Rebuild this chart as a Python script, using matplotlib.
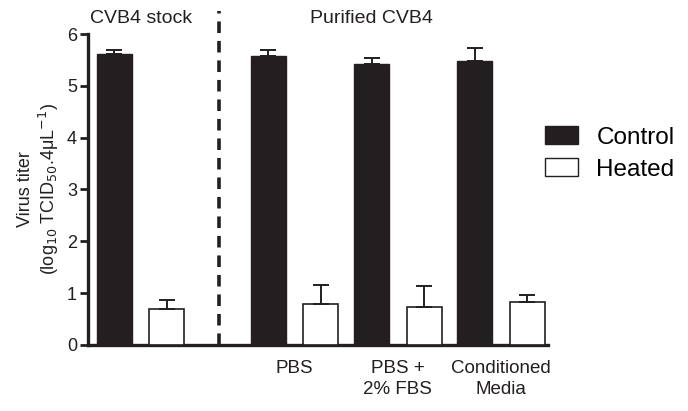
import matplotlib.pyplot as plt
from matplotlib.patches import Patch

plt.rcParams['font.family'] = ['Liberation Sans', 'DejaVu Sans']

# --- data ---
groups = ['', 'PBS', 'PBS +\n2% FBS', 'Conditioned\nMedia']
control_mean = [5.61, 5.58, 5.42, 5.49]
control_err = [0.09, 0.11, 0.12, 0.24]
heated_mean = [0.70, 0.79, 0.74, 0.82]
heated_err = [0.16, 0.37, 0.40, 0.14]

BLACK = '#231f20'
ctrl_x = [0.75, 5.15, 8.1, 11.05]
heat_x = [x + 1.5 for x in ctrl_x]
W = 1.0

fig = plt.figure(figsize=(6.88, 4.11), dpi=100)
ax = fig.add_axes([0.128, 0.161, 0.669, 0.756])

err_kw = dict(ecolor=BLACK, elinewidth=1.4, capsize=5.5, capthick=1.4)
ax.bar(ctrl_x, control_mean, W, color=BLACK, edgecolor=BLACK, linewidth=1.0,
       yerr=[[0] * 4, control_err], error_kw=err_kw, zorder=3)
ax.bar(heat_x, heated_mean, W, color='white', edgecolor=BLACK, linewidth=1.2,
       yerr=[[0] * 4, heated_err], error_kw=err_kw, zorder=3)

# dashed separator
ax.plot([3.75, 3.75], [0, 6.45], color=BLACK, linestyle=(0, (3.2, 2.2)),
        linewidth=2.6, clip_on=False, zorder=4)

ax.set_xlim(0, 13.15)
ax.set_ylim(0, 6)
ax.set_yticks(range(7))
ax.set_xticks([])
ax.tick_params(axis='y', direction='out', length=6, width=2, labelsize=13,
               colors=BLACK, pad=2)
for s in ['top', 'right']:
    ax.spines[s].set_visible(False)
for s in ['left', 'bottom']:
    ax.spines[s].set_linewidth(2.4)
    ax.spines[s].set_color(BLACK)

ax.set_ylabel('Virus titer\n(log$_{10}$ TCID$_{50}$.4\u03bcL$^{-1}$)',
              fontsize=13, color=BLACK, labelpad=4, linespacing=1.15)

# group labels under the axis
for cx, hx, lab in zip(ctrl_x, heat_x, groups):
    ax.text((cx + hx) / 2, -0.3, lab, ha='center', va='top', fontsize=13.5,
            color=BLACK, linespacing=1.25)

ax.text(1.5, 6.3, 'CVB4 stock', ha='center', va='center', fontsize=14, color=BLACK)
ax.text(8.1, 6.3, 'Purified CVB4', ha='center', va='center', fontsize=14, color=BLACK)

handles = [Patch(facecolor=BLACK, edgecolor=BLACK, label='Control'),
           Patch(facecolor='white', edgecolor=BLACK, label='Heated')]
fig.legend(handles=handles, loc='upper left', bbox_to_anchor=(0.778, 0.716),
           frameon=False, fontsize=17.5, handlelength=1.36, handleheight=0.74,
           handletextpad=0.75, labelspacing=0.4, borderaxespad=0)

fig.savefig('out.png', dpi=100, facecolor='white')
